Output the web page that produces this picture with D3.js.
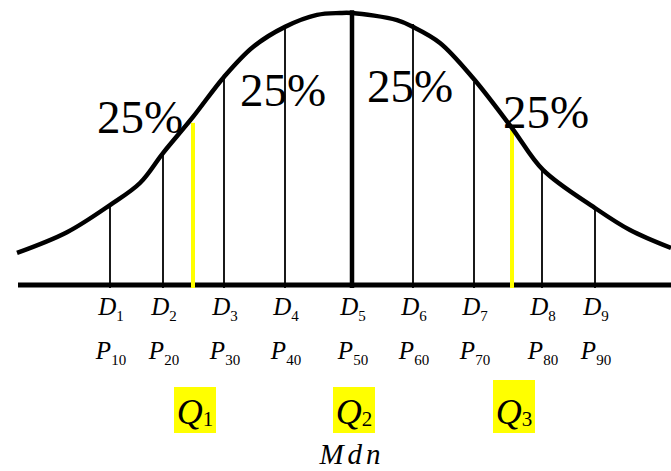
<!DOCTYPE html>
<html>
<head>
<meta charset="utf-8">
<script src="https://cdn.jsdelivr.net/npm/d3@7"></script>
</head>
<body style="margin:0">
<svg id="fig" width="671" height="471"></svg>
<script>
// Bell curve outline: position along the score axis (SD units) and relative height
const curveScore  = [-3.34, -2.84, -2.41, -2.11, -1.88, -1.58, -1.27, -0.98, -0.66, -0.34, -0.11, 0.01, 0.46, 0.62, 0.89, 1.22, 1.61, 1.92, 2.44, 2.79, 3.20];
const curveHeight = [0.118, 0.194, 0.294, 0.375, 0.485, 0.618, 0.765, 0.875, 0.949, 0.993, 1.000, 1.000, 0.974, 0.949, 0.890, 0.761, 0.577, 0.423, 0.283, 0.202, 0.136];

// Deciles D1..D9 (= percentiles P10..P90)
const decileIndex  = [1, 2, 3, 4, 5, 6, 7, 8, 9];
const decileScore  = [-2.41, -1.88, -1.27, -0.66, 0.01, 0.62, 1.23, 1.91, 2.44];
const decileTop    = [0.287, 0.485, 0.761, 0.945, 1.010, 0.960, 0.746, 0.430, 0.287];
const percentileIndex = [10, 20, 30, 40, 50, 60, 70, 80, 90];

// Quartiles Q1..Q3
const quartileIndex = [1, 2, 3];
const quartileScore = [-1.58, 0.01, 1.61];
const quartileTop   = [0.596, 1.010, 0.570];

// Share of area between consecutive quartiles
const shareText  = ["25%", "25%", "25%", "25%"];
const shareScore = [-2.54, -1.11, 0.16, 1.52];
const shareLevel = [0.559, 0.658, 0.673, 0.577];

const axisStart = -3.33, axisEnd = 3.20;
const SERIF = "Liberation Serif";

const svg = d3.select("#fig");
const x = d3.scaleLinear().domain([-3.51, 3.20]).range([0, 671]);
const y = d3.scaleLinear().domain([0, 1]).range([285, 13]);

// thin decile lines (D5 drawn thick as the median)
svg.append("g").selectAll("line")
  .data(decileIndex.map((k, i) => ({k, s: decileScore[i], top: decileTop[i]})))
  .join("line")
  .attr("x1", d => x(d.s)).attr("x2", d => x(d.s))
  .attr("y1", y(0) + 3).attr("y2", d => y(d.top))
  .attr("stroke", "#000")
  .attr("stroke-width", d => d.k === 5 ? 4.5 : 1.8);

// baseline
svg.append("line")
  .attr("x1", x(axisStart)).attr("x2", x(axisEnd))
  .attr("y1", y(0)).attr("y2", y(0))
  .attr("stroke", "#000").attr("stroke-width", 5);

// yellow quartile markers Q1 and Q3
svg.append("g").selectAll("line")
  .data(quartileIndex.map((k, i) => ({k, s: quartileScore[i], top: quartileTop[i]})).filter(d => d.k !== 2))
  .join("line")
  .attr("x1", d => x(d.s)).attr("x2", d => x(d.s))
  .attr("y1", y(0) + 3).attr("y2", d => y(d.top))
  .attr("stroke", "#ffff00").attr("stroke-width", 4);

// curve
const line = d3.line()
  .x(d => x(d[0])).y(d => y(d[1]))
  .curve(d3.curveCatmullRom.alpha(0.5));
svg.append("path")
  .datum(curveScore.map((s, i) => [s, curveHeight[i]]))
  .attr("d", line)
  .attr("fill", "none").attr("stroke", "#000")
  .attr("stroke-width", 4.5).attr("stroke-linejoin", "round");

// 25% annotations
shareText.forEach((t, i) => {
  svg.append("text")
    .attr("x", x(shareScore[i])).attr("y", y(shareLevel[i]))
    .attr("font-size", 47)
    .style("font-family", SERIF)
    .text(t);
});

// label with italic letter and upright subscript
function subLabel(letter, sub, cx, baseline, size, subSize, subDy) {
  const t = svg.append("text")
    .attr("x", cx).attr("y", baseline)
    .attr("font-size", size)
    .style("font-family", SERIF)
    .attr("text-anchor", "middle");
  t.append("tspan").attr("font-style", "italic").text(letter);
  t.append("tspan").attr("font-size", subSize).attr("dy", subDy).text(sub);
  return t;
}

decileIndex.forEach((k, i) => {
  subLabel("D", k, x(decileScore[i]) + 1, 315, 25, 15, 6);
  subLabel("P", percentileIndex[i], x(decileScore[i]) + 1, 359, 25, 15, 6);
});

// quartile labels on yellow boxes (fixed-size boxes, no layout measurement)
quartileIndex.forEach((k, i) => {
  const cx = x(quartileScore[i]) + 2;
  const top = k === 3 ? 380 : 387;
  svg.append("rect")
    .attr("x", cx - 21).attr("y", top)
    .attr("width", 42).attr("height", 433 - top)
    .attr("fill", "#ffff00");
  subLabel("Q", k, cx, 424, 36, 21, 2);
});

// median label
svg.append("text")
  .attr("x", x(quartileScore[1])).attr("y", 464)
  .attr("text-anchor", "middle")
  .attr("font-size", 29)
  .attr("font-style", "italic")
  .attr("letter-spacing", 4)
  .style("font-family", SERIF)
  .text("Mdn");
</script>
</body>
</html>
